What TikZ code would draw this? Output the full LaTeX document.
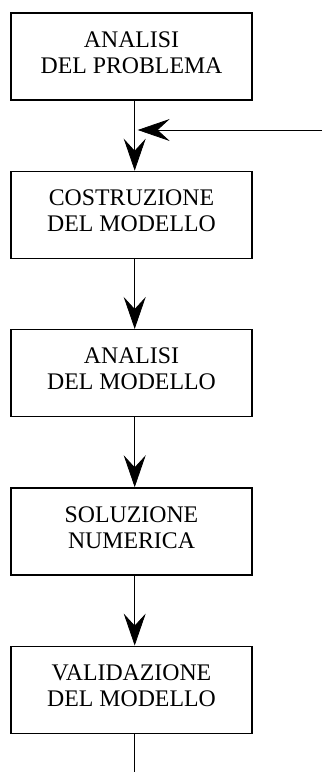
\documentclass[tikz,border=0pt]{standalone}
\usepackage{fontspec}
\setmainfont{Liberation Serif}
\usetikzlibrary{positioning, arrows.meta}
\tikzset{
->, % every connector is directed
>={Stealth[length=16pt, width=11pt, inset=6pt]}, % large notched heads
node distance=35pt, % gap between two boxes
line width=0.5pt,
stage/.style={draw, line width=0.65pt, minimum width=120.5pt, minimum height=43.5pt,
  inner sep=0pt, text depth=4pt, align=center, font=\fontsize{11.9}{13}\selectfont}, % one box of the flow
}

\begin{document}
\begin{tikzpicture}[x=1pt, y=1pt]
        \useasboundingbox (0,0) rectangle (161.5,-386);
        \node[stage] (problema) at (65.75,-28.25) {ANALISI\\DEL PROBLEMA};
        \node[stage, below=of problema] (costruzione) {COSTRUZIONE\\DEL MODELLO};
        \node[stage, below=of costruzione] (analisi) {ANALISI\\DEL MODELLO};
        \node[stage, below=of analisi] (soluzione) {SOLUZIONE\\NUMERICA};
        \node[stage, below=of soluzione] (validazione) {VALIDAZIONE\\DEL MODELLO};
        \coordinate (asse) at (67.35,0); % the vertical line sits a little right of centre
        \coordinate (ingresso) at (161,-65);
        \coordinate (fine) at (67.35,-386);
        \path (problema.south -| asse) edge (costruzione.north -| asse)
                (costruzione.south -| asse) edge (analisi.north -| asse)
                (analisi.south -| asse) edge (soluzione.north -| asse)
                (soluzione.south -| asse) edge (validazione.north -| asse);
        \draw[shorten >=1.5pt] (ingresso) -- (ingresso -| asse);
        \draw[-] (validazione.south -| asse) -- (fine);
    \end{tikzpicture}
\end{document}
